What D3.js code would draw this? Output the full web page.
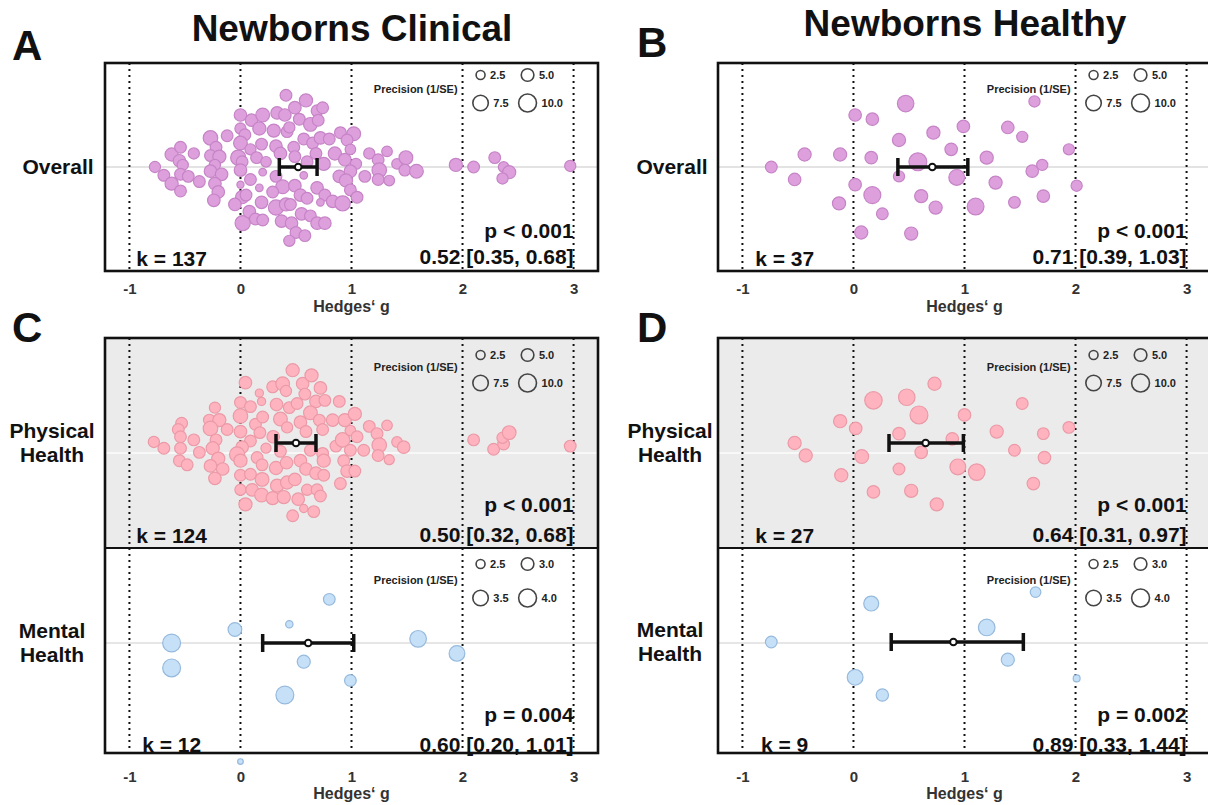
<!DOCTYPE html>
<html>
<head>
<meta charset="utf-8">
<script src="https://d3js.org/d3.v7.min.js"></script>
<style>
  body { margin: 0; background: #fff; }
  svg { font-family: "Liberation Sans", Arial, sans-serif; font-weight: bold; }
</style>
</head>
<body>
<svg id="chart" width="1208" height="805"></svg>
<script>
// x axis
var xTicks = [-1, 0, 1, 2, 3];
var xDomain = [-1.22, 3.22];

// each study: [Hedges' g, jitter (-1..1 of the row), precision 1/SE]
var clinicalOverall = [
  [-0.77,0,3.9],[-0.69,0.08,4.3],[-0.62,-0.12,5.4],[-0.54,-0.19,4.3],[-0.55,-0.06,4.9],[-0.52,-0.02,3.9],[-0.54,0.07,4.3],[-0.47,0.09,4.3],[-0.62,0.16,5.4],[-0.54,0.23,4.3],
  [-0.42,-0.13,3.9],[-0.37,0.14,4.3],[-0.27,-0.28,6.6],[-0.22,-0.19,4.3],[-0.27,-0.11,4.3],[-0.19,-0.10,5.4],[-0.23,-0.02,3.9],[-0.27,0.04,4.9],[-0.17,0.07,4.9],[-0.23,0.16,4.9],
  [-0.20,0.24,4.9],[-0.24,0.32,4.9],[-0.12,-0.30,4.3],[0.00,-0.50,4.9],[0.00,-0.37,3.9],[0.04,-0.31,4.3],[0.00,-0.23,5.9],[-0.02,-0.09,7.2],[0.015,-0.05,4.3],[0.00,0.03,4.9],
  [0.00,0.17,1.6],[0.015,0.29,5.4],[0.05,0.27,4.3],[-0.05,0.36,4.9],[0.02,0.54,7.2],[0.10,-0.45,4.9],[0.20,-0.50,5.9],[0.17,-0.37,5.4],[0.19,-0.22,4.3],[0.09,-0.17,3.9],
  [0.145,-0.09,4.3],[0.23,-0.05,3.5],[0.20,0.05,1.8],[0.09,0.12,4.3],[0.17,0.20,1.8],[0.19,0.34,4.9],[0.08,0.43,4.9],[0.135,0.50,4.3],[0.20,0.51,4.3],[0.30,-0.35,5.4],
  [0.33,-0.52,4.9],[0.40,-0.50,4.9],[0.41,-0.69,4.3],[0.49,-0.57,4.9],[0.59,-0.64,5.4],[0.53,-0.46,4.3],[0.63,-0.41,5.9],[0.69,-0.54,4.3],[0.74,-0.57,4.3],[0.70,-0.45,4.3],
  [0.42,-0.34,4.3],[0.44,-0.38,3.9],[0.32,-0.20,4.9],[0.36,-0.13,4.9],[0.48,-0.19,4.3],[0.57,-0.27,4.3],[0.65,-0.23,4.3],[0.72,-0.28,4.9],[0.80,-0.27,4.3],[0.49,-0.10,4.3],
  [0.60,-0.05,4.3],[0.68,-0.13,4.3],[0.75,-0.03,5.4],[0.57,0.08,1.8],[0.32,0.09,4.3],[0.38,0.19,5.9],[0.49,0.18,4.9],[0.29,0.24,4.3],[0.54,0.27,4.9],[0.60,0.30,4.3],
  [0.69,0.20,4.9],[0.76,0.27,4.3],[0.72,0.34,1.8],[0.32,0.39,7.2],[0.41,0.36,5.4],[0.45,0.36,4.3],[0.37,0.52,4.9],[0.46,0.54,4.9],[0.55,0.45,4.9],[0.63,0.47,4.3],
  [0.69,0.54,4.9],[0.76,0.54,4.9],[0.50,0.63,4.3],[0.58,0.66,4.3],[0.44,0.71,3.9],[0.83,0.33,4.9],[0.92,0.35,7.2],[0.85,-0.13,5.4],[0.90,-0.33,4.3],[1.02,-0.32,5.9],
  [0.96,-0.26,4.3],[0.94,-0.07,4.9],[0.99,-0.17,3.5],[1.04,-0.03,3.9],[0.99,0.04,4.9],[0.89,0.09,4.9],[0.95,0.13,5.4],[0.99,0.22,4.3],[1.05,0.29,4.3],[1.12,0.09,4.3],
  [1.16,-0.13,3.9],[1.24,-0.07,4.3],[1.32,-0.15,3.5],[1.25,0.03,6.6],[1.24,0.12,4.3],[1.34,0.13,3.5],[1.41,-0.03,3.5],[1.49,-0.09,5.9],[1.48,0.03,4.3],[1.585,0.04,5.9],
  [1.94,-0.02,5.4],[2.10,0.00,4.3],[2.29,-0.09,4.3],[2.37,0.00,3.5],[2.42,0.05,5.4],[2.36,0.11,3.9],[2.97,-0.01,3.9]
];

var clinicalPhysical = [
  [-0.78,-0.01,3.9],[-0.69,0.05,4.3],[-0.53,-0.19,4.3],[-0.56,-0.13,4.3],[-0.54,-0.06,4.3],[-0.42,-0.03,4.3],[-0.54,0.05,4.3],[-0.55,0.17,4.3],[-0.48,0.21,4.3],[-0.37,0.09,4.3],
  [-0.23,-0.34,3.9],[-0.28,-0.22,4.3],[-0.19,-0.22,5.4],[-0.27,-0.14,6.6],[-0.12,-0.13,4.3],[-0.22,-0.03,4.3],[-0.25,0.05,5.4],[-0.20,0.15,5.4],[-0.27,0.22,4.9],[-0.16,0.25,4.9],
  [-0.23,0.34,4.9],[0.045,-0.58,4.9],[0.00,-0.39,4.3],[0.09,-0.35,4.3],[0.00,-0.26,6.6],[0.00,-0.11,4.9],[0.09,-0.02,4.3],[0.015,0.04,4.9],[-0.03,0.11,7.2],[0.00,0.17,5.4],
  [0.00,0.31,4.3],[0.09,0.30,4.3],[0.00,0.45,3.9],[0.045,0.59,5.4],[0.17,-0.48,2.1],[0.19,-0.40,2.1],[0.135,-0.18,4.3],[0.20,-0.25,4.3],[0.175,-0.10,4.3],[0.23,0.05,3.2],
  [0.15,0.14,4.3],[0.195,0.21,4.3],[0.195,0.35,5.9],[0.105,0.45,4.9],[0.19,0.50,5.9],[0.29,-0.54,4.3],[0.38,-0.57,5.9],[0.41,-0.50,3.9],[0.47,-0.70,5.4],[0.56,-0.57,4.9],
  [0.64,-0.65,5.4],[0.72,-0.53,4.9],[0.58,-0.47,4.3],[0.325,-0.37,4.9],[0.44,-0.34,4.3],[0.51,-0.38,4.3],[0.68,-0.40,4.9],[0.76,-0.41,4.3],[0.89,-0.40,4.3],[0.63,-0.29,5.9],
  [0.36,-0.23,5.9],[0.42,-0.15,3.9],[0.54,-0.20,4.9],[0.59,-0.11,4.3],[0.71,-0.22,4.3],[0.74,-0.13,4.3],[0.83,-0.22,4.9],[0.94,-0.22,5.4],[1.03,-0.28,5.4],[0.295,-0.06,4.9],
  [0.36,0.08,4.3],[0.63,0.07,4.3],[0.74,0.10,4.3],[0.75,0.17,5.4],[0.86,0.03,4.3],[0.92,-0.03,6.6],[0.99,-0.12,3.5],[1.05,-0.06,4.3],[0.99,0.07,4.3],[1.11,0.07,4.3],
  [0.93,0.17,4.3],[0.96,0.27,4.9],[1.03,0.27,4.3],[0.90,0.39,4.3],[0.32,0.24,5.4],[0.415,0.19,4.9],[0.54,0.17,4.9],[0.59,0.25,4.9],[0.68,0.29,4.9],[0.75,0.31,4.3],
  [0.33,0.41,5.4],[0.42,0.38,5.4],[0.49,0.35,4.9],[0.29,0.53,5.4],[0.39,0.52,5.4],[0.52,0.54,4.9],[0.60,0.45,3.9],[0.69,0.45,4.3],[0.72,0.51,4.3],[0.57,0.63,2.1],
  [0.66,0.66,4.3],[0.47,0.70,4.3],[1.16,-0.16,4.3],[1.23,-0.09,4.3],[1.32,-0.17,3.5],[1.25,0.02,6.6],[1.24,0.12,4.3],[1.34,0.16,3.2],[1.41,-0.01,3.5],[1.47,0.04,4.9],
  [2.10,-0.03,4.3],[2.28,0.06,4.3],[2.37,0.01,4.3],[2.36,-0.05,3.9],[2.42,-0.10,5.9],[2.97,0.03,4.3]
];

var clinicalMental = [
  [-0.62,0,4.0],[-0.62,0.24,4.0],[-0.05,-0.13,3.17],[0.44,-0.18,2.34],[0.80,-0.42,2.85],[0.57,0.18,3.07],
  [0.40,0.50,4.0],[0.99,0.36,2.85],[1.60,-0.04,3.73],[1.95,0.10,3.55],[0.00,1.14,2.2]
];

var healthyOverall = [
  [-0.74,0,4.3],[-0.53,0.12,4.9],[-0.44,-0.12,5.4],[-0.12,-0.12,5.4],[-0.13,0.35,5.4],[0.015,-0.50,4.9],[0.015,0.17,4.9],[0.17,-0.46,4.9],[0.16,-0.09,4.9],[0.17,0.27,9.0],
  [0.07,0.63,5.4],[0.26,0.45,4.3],[0.41,-0.26,5.4],[0.41,0.09,3.9],[0.47,-0.61,8.5],[0.58,-0.05,10.0],[0.52,0.64,5.4],[0.61,0.28,5.4],[0.72,-0.33,5.4],[0.74,0.39,5.4],
  [0.88,-0.17,4.9],[0.93,0.10,7.8],[0.99,-0.39,4.9],[1.10,0.38,8.8],[1.20,-0.09,5.4],[1.28,0.15,5.4],[1.39,-0.38,4.9],[1.45,0.34,4.3],[1.52,-0.29,3.9],[1.61,0.04,4.9],
  [1.70,-0.02,3.9],[1.71,0.28,4.9],[1.63,-0.63,3.9],[1.94,-0.17,3.9],[2.01,0.18,3.9]
];

var healthyPhysical = [
  [-0.53,0,5.4],[-0.43,0.12,5.4],[-0.12,-0.21,5.4],[-0.11,0.31,5.4],[0.02,-0.14,4.9],[0.075,0.13,5.9],[0.18,-0.41,9.5],[0.18,0.47,4.9],[0.41,-0.09,4.9],[0.41,0.25,4.3],
  [0.48,-0.44,8.5],[0.52,0.46,5.4],[0.59,-0.27,10.0],[0.61,0.09,4.9],[0.73,-0.57,5.4],[0.75,0.59,5.4],[0.89,-0.04,4.9],[0.94,0.23,7.8],[1.00,-0.27,4.9],[1.11,0.28,8.5],
  [1.29,-0.11,5.4],[1.45,0.07,4.3],[1.52,-0.38,4.3],[1.62,0.39,4.9],[1.71,-0.09,4.3],[1.72,0.14,4.9],[1.94,-0.15,4.3]
];

var healthyMental = [
  [-0.74,0,2.85],[0.16,-0.37,3.4],[0.015,0.34,3.55],[0.26,0.51,2.95],[1.20,-0.14,3.73],[1.39,0.17,3.07],[1.64,-0.48,2.7],[2.01,0.35,2.3]
];

// pooled estimate [g, lower, upper] as drawn: overall, physical, mental
var clinicalEst = [[0.52, 0.35, 0.69], [0.50, 0.32, 0.68], [0.61, 0.20, 1.02]];
var healthyEst = [[0.71, 0.40, 1.03], [0.65, 0.32, 0.99], [0.90, 0.34, 1.53]];

var clinicalK = ["k = 137", "k = 124", "k = 12"];
var healthyK = ["k = 37", "k = 27", "k = 9"];
var clinicalP = ["p < 0.001", "p < 0.001", "p = 0.004"];
var healthyP = ["p < 0.001", "p < 0.001", "p = 0.002"];
var clinicalCI = ["0.52 [0.35, 0.68]", "0.50 [0.32, 0.68]", "0.60 [0.20, 1.01]"];
var healthyCI = ["0.71 [0.39, 1.03]", "0.64 [0.31, 0.97]", "0.89 [0.33, 1.44]"];

var legendWide = [2.5, 5.0, 7.5, 10.0];
var legendMental = [2.5, 3.0, 3.5, 4.0];

var svg = d3.select("#chart");

// point area grows linearly with precision between the legend ends
function sizeScale(vals) {
  var area = d3.scaleLinear().domain([vals[0], vals[3]]).range([20, 80]);
  return function(p) { return Math.sqrt(Math.max(2.5, area(p))); };
}

var cols = [
  { range: [105, 598], labelX: 52, overallX: 58 },
  { range: [718, 1211], labelX: 670, overallX: 672 }
];

function drawFacet(x, f) {
  var g = svg.append("g");
  var x0 = x.range()[0], x1 = x.range()[1];
  var y = d3.scaleLinear().domain([-1, 1]).range([f.center - 104, f.center + 104]);
  var size = sizeScale(f.legend);

  g.append("rect")
    .attr("x", x0).attr("y", f.top)
    .attr("width", x1 - x0).attr("height", f.bottom - f.top)
    .attr("fill", f.bg);

  g.append("line")
    .attr("x1", x0).attr("x2", x1)
    .attr("y1", f.lineY).attr("y2", f.lineY)
    .attr("stroke", f.lineColor).attr("stroke-width", 2);

  g.selectAll(".vgrid").data(xTicks).join("line")
    .attr("x1", d => x(d)).attr("x2", d => x(d))
    .attr("y1", f.top).attr("y2", f.bottom)
    .attr("stroke", "#111").attr("stroke-width", 2)
    .attr("stroke-dasharray", "2,4");

  g.selectAll(".pt").data(f.pts).join("circle")
    .attr("cx", d => x(d[0]))
    .attr("cy", d => y(d[1]))
    .attr("r", d => size(d[2]))
    .attr("fill", f.fill)
    .attr("stroke", f.stroke)
    .attr("stroke-width", 1.2);

  // pooled estimate with CI
  var e = f.est;
  var cy = y(0);
  g.append("line")
    .attr("x1", x(e[1])).attr("x2", x(e[2]))
    .attr("y1", cy).attr("y2", cy)
    .attr("stroke", "#111").attr("stroke-width", 3.5);
  g.selectAll(".cap").data([e[1], e[2]]).join("line")
    .attr("x1", d => x(d)).attr("x2", d => x(d))
    .attr("y1", cy - 9).attr("y2", cy + 9)
    .attr("stroke", "#111").attr("stroke-width", 3.5);
  g.append("circle")
    .attr("cx", x(e[0])).attr("cy", cy).attr("r", 3.3)
    .attr("fill", "#fff").attr("stroke", "#111").attr("stroke-width", 2);

  // annotations
  g.append("text").attr("x", x(-0.62)).attr("y", f.kY)
    .attr("text-anchor", "middle").attr("font-size", 21).attr("fill", "#111")
    .text(f.k);
  g.append("text").attr("x", x(3)).attr("y", f.pY)
    .attr("text-anchor", "end").attr("font-size", 21).attr("fill", "#111")
    .text(f.p);
  g.append("text").attr("x", x(3)).attr("y", f.ciY)
    .attr("text-anchor", "end").attr("font-size", 21).attr("fill", "#111")
    .text(f.ci);

  // size legend
  var lx = x(3);
  g.append("text").attr("x", lx - 116).attr("y", f.top + f.legY[1])
    .attr("text-anchor", "end").attr("dy", "0.35em")
    .attr("font-size", 11).attr("fill", "#222")
    .text("Precision (1/SE)");
  var keys = f.legend.map((v, i) => ({ v: v, cx: lx - (i % 2 === 0 ? 93 : 46), cy: f.top + (i < 2 ? f.legY[0] : f.legY[2]) }));
  g.selectAll(".key").data(keys).join("circle")
    .attr("cx", d => d.cx).attr("cy", d => d.cy)
    .attr("r", d => size(d.v))
    .attr("fill", "none").attr("stroke", "#444").attr("stroke-width", 1.6);
  g.selectAll(".keylab").data(keys).join("text")
    .attr("x", d => d.cx + size(d.v) + 5).attr("y", d => d.cy)
    .attr("dy", "0.35em").attr("font-size", 11).attr("fill", "#222")
    .text(d => d3.format(".1f")(d.v));

  // row label
  var lab = g.append("text").attr("text-anchor", "middle")
    .attr("font-size", 21).attr("fill", "#111");
  if (f.label.length === 1) {
    lab.append("tspan").attr("x", f.labelX).attr("y", f.center + 7).text(f.label[0]);
  } else {
    lab.append("tspan").attr("x", f.labelX).attr("y", f.center - 5).text(f.label[0]);
    lab.append("tspan").attr("x", f.labelX).attr("y", f.center + 19).text(f.label[1]);
  }
}

function drawAxis(x, yPos, pad, titleY) {
  svg.append("g")
    .attr("transform", `translate(0,${yPos})`)
    .call(d3.axisBottom(x).tickValues(xTicks).tickSize(0).tickPadding(pad).tickFormat(d => String(d)))
    .call(g => g.select(".domain").remove())
    .call(g => g.selectAll("text")
      .attr("font-size", 15).attr("font-weight", "bold")
      .attr("font-family", "Liberation Sans, Arial, sans-serif")
      .attr("fill", "#333"));
  var r = x.range();
  svg.append("text")
    .attr("x", (r[0] + r[1]) / 2).attr("y", titleY)
    .attr("text-anchor", "middle").attr("font-size", 16).attr("fill", "#333")
    .text("Hedges\u2018 g");
}

function border(x, top, bottom, mid) {
  var r = x.range();
  svg.append("rect")
    .attr("x", r[0]).attr("y", top)
    .attr("width", r[1] - r[0]).attr("height", bottom - top)
    .attr("fill", "none").attr("stroke", "#111").attr("stroke-width", 2.6);
  if (mid) {
    svg.append("line")
      .attr("x1", r[0]).attr("x2", r[1]).attr("y1", mid).attr("y2", mid)
      .attr("stroke", "#111").attr("stroke-width", 2);
  }
}

var groups = [
  { pts: [clinicalOverall, clinicalPhysical, clinicalMental], est: clinicalEst, k: clinicalK, p: clinicalP, ci: clinicalCI },
  { pts: [healthyOverall, healthyPhysical, healthyMental], est: healthyEst, k: healthyK, p: healthyP, ci: healthyCI }
];

groups.forEach(function(grp, c) {
  var x = d3.scaleLinear().domain(xDomain).range(cols[c].range);
  var lx = cols[c].labelX;
  var mentalCenter = c === 0 ? 643 : 642;

  drawFacet(x, { top: 63, bottom: 271, center: 167, lineY: 167, bg: "#fff", lineColor: "#e3e3e3",
    pts: grp.pts[0], est: grp.est[0], fill: "#dda0dd", stroke: "#c684c6", legend: legendWide,
    legY: [12, 26, 40], k: grp.k[0], p: grp.p[0], ci: grp.ci[0], kY: 266, pY: 238, ciY: 264,
    label: ["Overall"], labelX: cols[c].overallX });

  drawFacet(x, { top: 338, bottom: 548, center: 443, lineY: 453, bg: "#ebebeb", lineColor: "#f8f8f8",
    pts: grp.pts[1], est: grp.est[1], fill: "#ffb3bf", stroke: "#eb9aa7", legend: legendWide,
    legY: [17, 29, 45], k: grp.k[1], p: grp.p[1], ci: grp.ci[1], kY: 543, pY: 512, ciY: 542,
    label: ["Physical", "Health"], labelX: lx });

  drawFacet(x, { top: 548, bottom: 753, center: mentalCenter, lineY: 643, bg: "none", lineColor: "#e6e6e6",
    pts: grp.pts[2], est: grp.est[2], fill: "#c6e0f7", stroke: "#96badd", legend: legendMental,
    legY: [16, 32, 50], k: grp.k[2], p: grp.p[2], ci: grp.ci[2], kY: 752, pY: 722, ciY: 752,
    label: ["Mental", "Health"], labelX: lx });

  border(x, 63, 271);
  border(x, 338, 753, 548);
  drawAxis(x, 271, 12, 312);
  drawAxis(x, 753, 18, 799);
});

// titles and panel letters
svg.append("text").attr("x", 352).attr("y", 41).attr("text-anchor", "middle")
  .attr("font-size", 37).attr("fill", "#111").text("Newborns Clinical");
svg.append("text").attr("x", 965).attr("y", 36).attr("text-anchor", "middle")
  .attr("font-size", 37).attr("fill", "#111").text("Newborns Healthy");
[["A", 12, 60], ["B", 637, 57], ["C", 12, 342], ["D", 637, 342]].forEach(function(l) {
  svg.append("text").attr("x", l[1]).attr("y", l[2])
    .attr("font-size", 42).attr("fill", "#111").text(l[0]);
});
</script>
</body>
</html>
